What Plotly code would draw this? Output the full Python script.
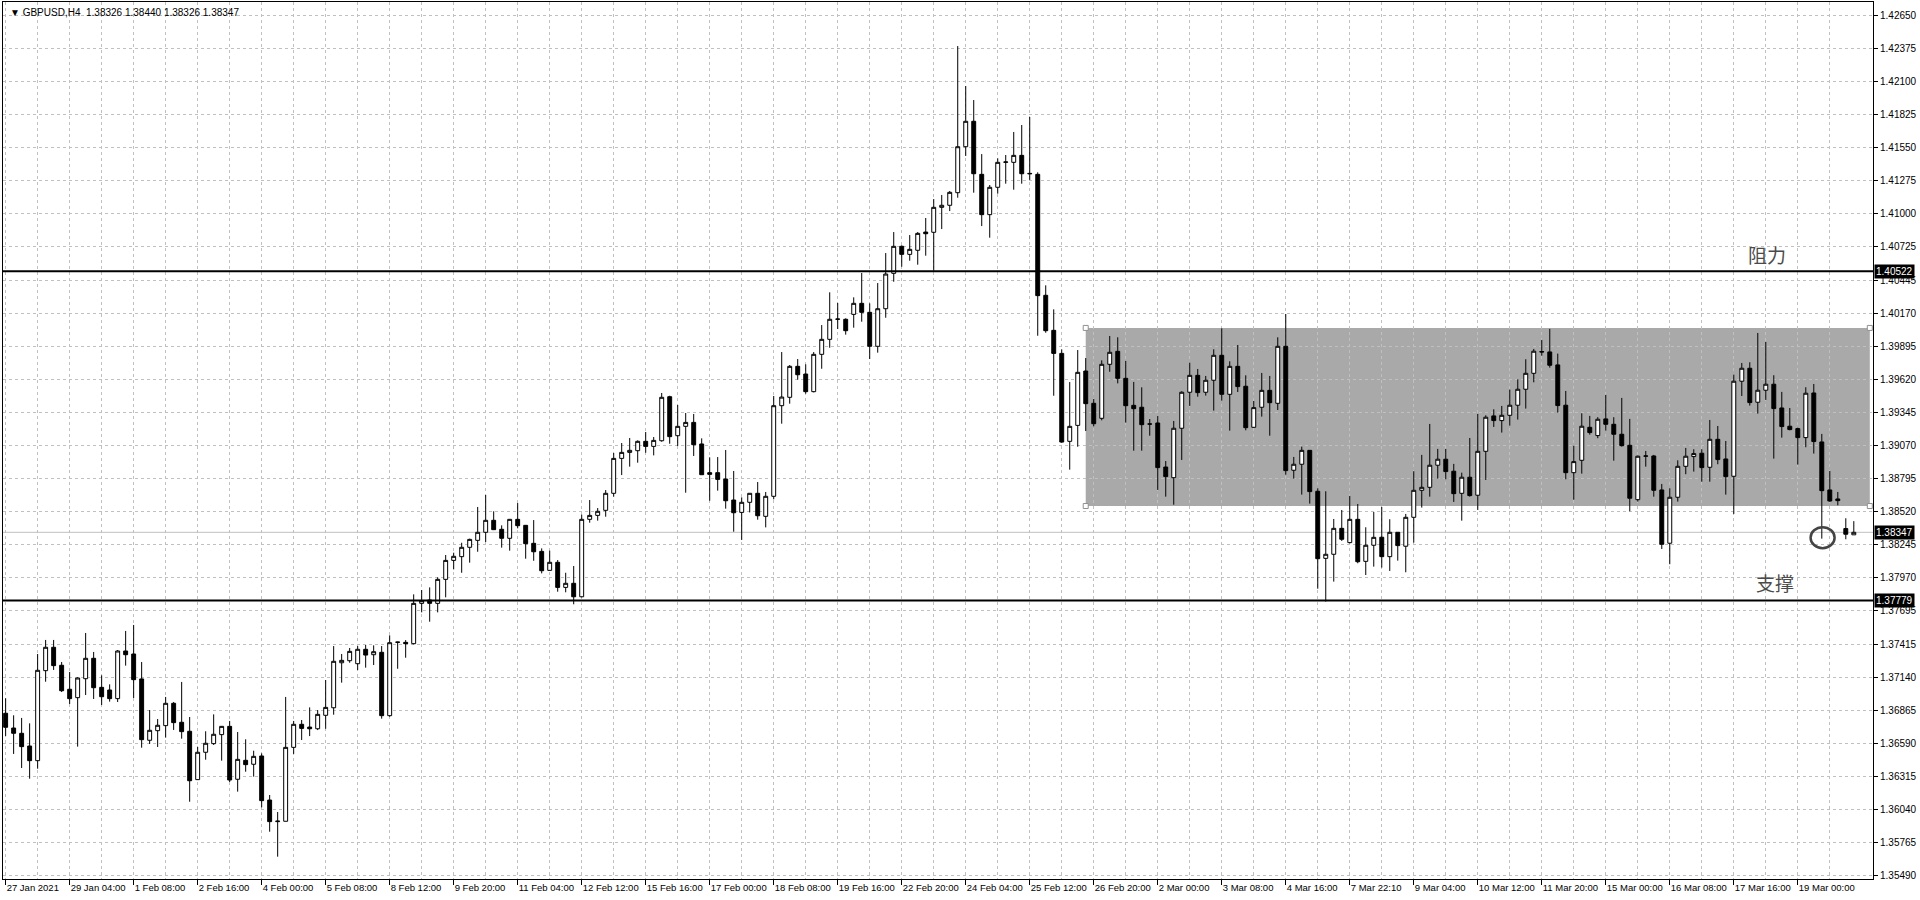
import plotly.graph_objects as go

# GBPUSD H4, one entry per bar (27 Jan 2021 20:00 -> 19 Mar 2021)
opens = [
    1.36839, 1.36716, 1.36672, 1.36566, 1.36444, 1.37194, 1.37389, 1.37239, 1.37039, 1.36969,
    1.37127, 1.37297, 1.37055, 1.37033, 1.36961, 1.37358, 1.37333, 1.37125, 1.36614, 1.36694,
    1.36736, 1.36922, 1.36764, 1.36689, 1.36286, 1.36514, 1.36586, 1.36661, 1.36730, 1.36289,
    1.36447, 1.36414, 1.36483, 1.36116, 1.35936, 1.35939, 1.36555, 1.36747, 1.36724, 1.36710,
    1.36822, 1.36885, 1.37260, 1.37277, 1.37252, 1.37372, 1.37327, 1.37347, 1.36819, 1.37430,
    1.37430, 1.37419, 1.37755, 1.37783, 1.37755, 1.37955, 1.38113, 1.38144, 1.38222, 1.38280,
    1.38347, 1.38447, 1.38372, 1.38297, 1.38455, 1.38405, 1.38255, 1.38188, 1.38030, 1.38097,
    1.37888, 1.37922, 1.37810, 1.38455, 1.38488, 1.38530, 1.38672, 1.38963, 1.39013, 1.39027,
    1.39105, 1.39063, 1.39110, 1.39477, 1.39152, 1.39230, 1.39263, 1.39083, 1.38844, 1.38844,
    1.38791, 1.38616, 1.38513, 1.38597, 1.38672, 1.38480, 1.38647, 1.39402, 1.39472, 1.39730,
    1.39666, 1.39519, 1.39830, 1.39955, 1.40122, 1.40122, 1.40163, 1.40255, 1.40180, 1.39897,
    1.40210, 1.40505, 1.40730, 1.40663, 1.40697, 1.40849, 1.40847, 1.41055, 1.41072, 1.41177,
    1.41560, 1.41772, 1.41330, 1.40994, 1.41222, 1.41430, 1.41430, 1.41488, 1.41338, 1.41330,
    1.40322, 1.40030, 1.39838, 1.39105, 1.39238, 1.39691, 1.39422, 1.39297, 1.39747, 1.39855,
    1.39630, 1.39405, 1.39389, 1.39250, 1.39258, 1.38891, 1.38802, 1.39214, 1.39514, 1.39655,
    1.39514, 1.39614, 1.39822, 1.39497, 1.39730, 1.39564, 1.39222, 1.39389, 1.39530, 1.39422,
    1.39897, 1.38864, 1.38914, 1.39030, 1.38689, 1.38130, 1.38164, 1.38380, 1.38261, 1.38455,
    1.38105, 1.38239, 1.38306, 1.38144, 1.38347, 1.38231, 1.38472, 1.38697, 1.38722, 1.38906,
    1.38956, 1.38856, 1.38672, 1.38806, 1.38656, 1.39022, 1.39317, 1.39278, 1.39322, 1.39406,
    1.39539, 1.39672, 1.39853, 1.39850, 1.39742, 1.39406, 1.38844, 1.38947, 1.39222, 1.39153,
    1.39292, 1.39247, 1.39164, 1.39072, 1.38619, 1.38981, 1.38983, 1.38700, 1.38256, 1.38639,
    1.38897, 1.38978, 1.39006, 1.38889, 1.39122, 1.38958, 1.38814, 1.39606, 1.39714, 1.39431,
    1.39531, 1.39581, 1.39383, 1.39231, 1.39211, 1.39136, 1.39508, 1.39100, 1.38700, 1.38625,
    1.38378, 1.38326,
]
highs = [
    1.36964, 1.36822, 1.36800, 1.36755, 1.37333, 1.37450, 1.37450, 1.37266, 1.37183, 1.37139,
    1.37508, 1.37350, 1.37155, 1.37080, 1.37366, 1.37525, 1.37575, 1.37266, 1.36866, 1.36791,
    1.36975, 1.36933, 1.37100, 1.36808, 1.36558, 1.36689, 1.36830, 1.36733, 1.36775, 1.36683,
    1.36622, 1.36527, 1.36505, 1.36158, 1.36016, 1.36975, 1.36775, 1.36783, 1.36888, 1.36866,
    1.37116, 1.37399, 1.37333, 1.37383, 1.37399, 1.37408, 1.37405, 1.37399, 1.37488, 1.37435,
    1.37449, 1.37830, 1.37866, 1.37888, 1.37972, 1.38158, 1.38177, 1.38260, 1.38294, 1.38558,
    1.38658, 1.38522, 1.38405, 1.38458, 1.38591, 1.38408, 1.38449, 1.38213, 1.38194, 1.38116,
    1.38010, 1.38066, 1.38494, 1.38616, 1.38549, 1.38699, 1.39008, 1.39091, 1.39133, 1.39113,
    1.39183, 1.39141, 1.39508, 1.39485, 1.39408, 1.39341, 1.39333, 1.39130, 1.38972, 1.38974,
    1.39033, 1.38858, 1.38638, 1.38672, 1.38766, 1.38683, 1.39483, 1.39849, 1.39741, 1.39791,
    1.39747, 1.39849, 1.40074, 1.40347, 1.40258, 1.40130, 1.40305, 1.40508, 1.40255, 1.40424,
    1.40674, 1.40849, 1.40738, 1.40824, 1.40849, 1.40966, 1.41124, 1.41158, 1.41191, 1.42399,
    1.42066, 1.41949, 1.41499, 1.41241, 1.41463, 1.41491, 1.41683, 1.41741, 1.41808, 1.41347,
    1.40405, 1.40205, 1.39872, 1.39599, 1.39866, 1.39799, 1.39458, 1.39780, 1.39983, 1.39972,
    1.39775, 1.39600, 1.39555, 1.39291, 1.39316, 1.38941, 1.39275, 1.39522, 1.39761, 1.39708,
    1.39650, 1.39872, 1.40047, 1.39772, 1.39908, 1.39655, 1.39441, 1.39675, 1.39650, 1.39972,
    1.40166, 1.38975, 1.39061, 1.39030, 1.38714, 1.38689, 1.38458, 1.38533, 1.38650, 1.38583,
    1.38389, 1.38516, 1.38558, 1.38456, 1.38347, 1.38500, 1.38856, 1.38992, 1.39250, 1.39042,
    1.39042, 1.38917, 1.38844, 1.39133, 1.39333, 1.39322, 1.39372, 1.39400, 1.39536, 1.39622,
    1.39789, 1.39875, 1.39950, 1.40042, 1.39836, 1.39525, 1.39067, 1.39339, 1.39317, 1.39306,
    1.39492, 1.39306, 1.39467, 1.39292, 1.38986, 1.39025, 1.38992, 1.38750, 1.38714, 1.38947,
    1.39050, 1.39039, 1.39039, 1.39283, 1.39233, 1.39108, 1.39661, 1.39758, 1.39764, 1.40008,
    1.39933, 1.39656, 1.39517, 1.39383, 1.39219, 1.39556, 1.39583, 1.39167, 1.38858, 1.38683,
    1.38464, 1.38440,
]
lows = [
    1.36650, 1.36500, 1.36383, 1.36294, 1.36377, 1.37102, 1.37200, 1.37016, 1.36916, 1.36561,
    1.36991, 1.36958, 1.36908, 1.36936, 1.36933, 1.37236, 1.36966, 1.36552, 1.36583, 1.36558,
    1.36636, 1.36700, 1.36627, 1.36102, 1.36283, 1.36452, 1.36575, 1.36444, 1.36266, 1.36186,
    1.36352, 1.36311, 1.36055, 1.35852, 1.35644, 1.35939, 1.36500, 1.36616, 1.36649, 1.36699,
    1.36710, 1.36827, 1.37094, 1.37260, 1.37199, 1.37219, 1.37241, 1.36794, 1.36810, 1.37210,
    1.37302, 1.37413, 1.37680, 1.37602, 1.37680, 1.37805, 1.38038, 1.38010, 1.38094, 1.38185,
    1.38266, 1.38366, 1.38219, 1.38194, 1.38380, 1.38127, 1.38110, 1.38005, 1.38027, 1.37852,
    1.37847, 1.37747, 1.37805, 1.38427, 1.38444, 1.38477, 1.38644, 1.38824, 1.38894, 1.38927,
    1.39010, 1.38988, 1.39102, 1.39085, 1.39066, 1.38677, 1.38983, 1.38824, 1.38610, 1.38694,
    1.38544, 1.38352, 1.38283, 1.38513, 1.38452, 1.38388, 1.38622, 1.39252, 1.39419, 1.39619,
    1.39502, 1.39513, 1.39710, 1.39885, 1.40041, 1.39994, 1.40052, 1.40102, 1.39791, 1.39844,
    1.40135, 1.40435, 1.40560, 1.40610, 1.40577, 1.40652, 1.40527, 1.40874, 1.41024, 1.41135,
    1.41483, 1.41177, 1.40899, 1.40802, 1.41169, 1.41252, 1.41202, 1.41252, 1.41283, 1.39985,
    1.40010, 1.39485, 1.39094, 1.38869, 1.39060, 1.39191, 1.39230, 1.39280, 1.39685, 1.39588,
    1.39261, 1.39027, 1.39027, 1.39152, 1.38700, 1.38644, 1.38577, 1.38950, 1.39400, 1.39477,
    1.39486, 1.39361, 1.39444, 1.39194, 1.39516, 1.39197, 1.39219, 1.39311, 1.39152, 1.39366,
    1.38827, 1.38794, 1.38661, 1.38586, 1.37877, 1.37770, 1.37936, 1.38275, 1.38255, 1.38089,
    1.37991, 1.38061, 1.38053, 1.38025, 1.38111, 1.38014, 1.38261, 1.38553, 1.38644, 1.38794,
    1.38789, 1.38600, 1.38444, 1.38644, 1.38533, 1.38783, 1.39225, 1.39178, 1.39236, 1.39286,
    1.39378, 1.39597, 1.39819, 1.39719, 1.39344, 1.38789, 1.38619, 1.38836, 1.39161, 1.39131,
    1.39194, 1.38944, 1.39061, 1.38522, 1.38603, 1.38894, 1.38644, 1.38208, 1.38081, 1.38603,
    1.38831, 1.38853, 1.38769, 1.38769, 1.38914, 1.38661, 1.38500, 1.39483, 1.39403, 1.39336,
    1.39450, 1.38961, 1.39136, 1.39197, 1.38911, 1.39056, 1.39003, 1.38294, 1.38600, 1.38572,
    1.38289, 1.38326,
]
closes = [
    1.36722, 1.36672, 1.36561, 1.36444, 1.37197, 1.37389, 1.37236, 1.37027, 1.36961, 1.37133,
    1.37297, 1.37052, 1.36977, 1.36961, 1.37358, 1.37327, 1.37119, 1.36619, 1.36697, 1.36739,
    1.36922, 1.36761, 1.36686, 1.36277, 1.36514, 1.36589, 1.36664, 1.36730, 1.36283, 1.36455,
    1.36411, 1.36480, 1.36111, 1.35936, 1.35940, 1.36555, 1.36747, 1.36713, 1.36710, 1.36830,
    1.36888, 1.37272, 1.37280, 1.37355, 1.37372, 1.37324, 1.37352, 1.36819, 1.37427, 1.37432,
    1.37419, 1.37755, 1.37777, 1.37755, 1.37955, 1.38113, 1.38147, 1.38222, 1.38288, 1.38347,
    1.38447, 1.38369, 1.38297, 1.38455, 1.38402, 1.38252, 1.38185, 1.38027, 1.38097, 1.37888,
    1.37922, 1.37810, 1.38455, 1.38488, 1.38522, 1.38672, 1.38963, 1.39013, 1.39030, 1.39105,
    1.39063, 1.39113, 1.39472, 1.39144, 1.39230, 1.39263, 1.39077, 1.38827, 1.38830, 1.38788,
    1.38610, 1.38510, 1.38597, 1.38672, 1.38485, 1.38647, 1.39402, 1.39474, 1.39730, 1.39660,
    1.39519, 1.39830, 1.39955, 1.40122, 1.40124, 1.40027, 1.40255, 1.40180, 1.39897, 1.40210,
    1.40499, 1.40730, 1.40663, 1.40705, 1.40838, 1.40835, 1.41055, 1.41072, 1.41180, 1.41560,
    1.41772, 1.41335, 1.40994, 1.41222, 1.41430, 1.41433, 1.41488, 1.41335, 1.41335, 1.40319,
    1.40027, 1.39838, 1.39099, 1.39230, 1.39680, 1.39419, 1.39252, 1.39747, 1.39847, 1.39630,
    1.39402, 1.39377, 1.39244, 1.39249, 1.38886, 1.38811, 1.39214, 1.39514, 1.39655, 1.39511,
    1.39614, 1.39822, 1.39497, 1.39730, 1.39561, 1.39219, 1.39386, 1.39530, 1.39427, 1.39897,
    1.38861, 1.38914, 1.39030, 1.38686, 1.38127, 1.38164, 1.38380, 1.38289, 1.38455, 1.38102,
    1.38239, 1.38305, 1.38144, 1.38347, 1.38236, 1.38472, 1.38697, 1.38722, 1.38906, 1.38956,
    1.38853, 1.38669, 1.38806, 1.38653, 1.39022, 1.39306, 1.39278, 1.39322, 1.39406, 1.39539,
    1.39672, 1.39856, 1.39850, 1.39739, 1.39403, 1.38844, 1.38936, 1.39231, 1.39178, 1.39289,
    1.39247, 1.39164, 1.39069, 1.38631, 1.38981, 1.38983, 1.38697, 1.38247, 1.38639, 1.38897,
    1.38981, 1.39003, 1.38886, 1.39122, 1.38953, 1.38811, 1.39606, 1.39714, 1.39428, 1.39531,
    1.39581, 1.39378, 1.39228, 1.39203, 1.39136, 1.39506, 1.39103, 1.38694, 1.38608, 1.38611,
    1.38331, 1.38347,
]

# one label every 8 bars
x_labels = [
    "27 Jan 2021", "29 Jan 04:00", "1 Feb 08:00", "2 Feb 16:00", "4 Feb 00:00",
    "5 Feb 08:00", "8 Feb 12:00", "9 Feb 20:00", "11 Feb 04:00", "12 Feb 12:00",
    "15 Feb 16:00", "17 Feb 00:00", "18 Feb 08:00", "19 Feb 16:00", "22 Feb 20:00",
    "24 Feb 04:00", "25 Feb 12:00", "26 Feb 20:00", "2 Mar 00:00", "3 Mar 08:00",
    "4 Mar 16:00", "7 Mar 22:10", "9 Mar 04:00", "10 Mar 12:00", "11 Mar 20:00",
    "15 Mar 00:00", "16 Mar 08:00", "17 Mar 16:00", "19 Mar 00:00",
]
y_labels = [
    "1.42650", "1.42375", "1.42100", "1.41825", "1.41550", "1.41275", "1.41000",
    "1.40725", "1.40445", "1.40170", "1.39895", "1.39620", "1.39345", "1.39070",
    "1.38795", "1.38520", "1.38245", "1.37970", "1.37695", "1.37415", "1.37140",
    "1.36865", "1.36590", "1.36315", "1.36040", "1.35765", "1.35490",
]

symbol_info = "GBPUSD,H4  1.38326 1.38440 1.38326 1.38347"
resistance = 1.40522
support = 1.37779
last_price = 1.38347
# range box: first bar, last bar, bottom, top
box_bars = [135, 233]
box_prices = [1.38566, 1.40050]
# circled wick: bars and prices spanned by the ellipse
circle_bars = [225.6, 228.6]
circle_prices = [1.38215, 1.38390]

bars = list(range(len(opens)))
grid = "#c0c0c0"
font = "Liberation Sans, Arial, sans-serif"

fig = go.Figure()
fig.add_trace(go.Candlestick(
    x=bars, open=opens, high=highs, low=lows, close=closes,
    increasing=dict(line=dict(color="black", width=1), fillcolor="white"),
    decreasing=dict(line=dict(color="black", width=1), fillcolor="black"),
    whiskerwidth=0, hoverinfo="skip", showlegend=False,
))
# selection handles on the box corners
fig.add_trace(go.Scatter(
    x=[box_bars[0], box_bars[0], box_bars[1], box_bars[1]],
    y=[box_prices[0], box_prices[1], box_prices[0], box_prices[1]],
    mode="markers", hoverinfo="skip", showlegend=False,
    marker=dict(symbol="square", size=5, color="white", line=dict(color="#909090", width=1)),
))

fig.add_shape(type="rect", x0=box_bars[0], x1=box_bars[1], y0=box_prices[0], y1=box_prices[1],
              fillcolor="#a9a9a9", line_width=0, layer="below")
fig.add_shape(type="line", xref="paper", x0=0, x1=1, y0=last_price, y1=last_price,
              line=dict(color="#c0c0c0", width=1), layer="below")
for lvl in (resistance, support):
    fig.add_shape(type="line", xref="paper", x0=0, x1=1, y0=lvl, y1=lvl,
                  line=dict(color="black", width=2))
fig.add_shape(type="circle", x0=circle_bars[0], x1=circle_bars[1],
              y0=circle_prices[0], y1=circle_prices[1], line=dict(color="#444444", width=2.5))

fig.add_annotation(text="▼ " + symbol_info, xref="paper", yref="paper", x=0, y=1,
                   xanchor="left", yanchor="top", xshift=5, yshift=-3, showarrow=False,
                   font=dict(family=font, size=10, color="black"))
fig.add_annotation(text="阻力", x=220.2, y=1.40658, showarrow=False,
                   font=dict(family="Noto Sans CJK SC", size=19, color="#4a4a4a"))
fig.add_annotation(text="支撑", x=221.1, y=1.37925, showarrow=False,
                   font=dict(family="Noto Sans CJK SC", size=19, color="#4a4a4a"))
for lvl in (resistance, last_price, support):
    fig.add_annotation(text=f"{lvl:.5f}", xref="paper", x=1, y=lvl, xanchor="left", xshift=1,
                       showarrow=False, bgcolor="black", borderpad=1,
                       font=dict(family=font, size=10, color="white"))

fig.update_layout(
    width=1920, height=900,
    margin=dict(l=3, r=47, t=2, b=21),
    paper_bgcolor="white", plot_bgcolor="white",
    font=dict(family=font, size=10, color="black"),
    showlegend=False,
    xaxis=dict(
        range=[-0.33, 233.4], rangeslider=dict(visible=False),
        tickmode="array", tickvals=bars[::8], ticktext=x_labels, tickangle=0,
        ticks="outside", ticklen=5, tickcolor="black", ticklabelposition="outside right",
        tickfont=dict(size=9.5),
        showgrid=True, gridcolor=grid, griddash="3px,3px", gridwidth=1,
        minor=dict(tickmode="array", tickvals=bars[4::8], showgrid=True,
                   gridcolor=grid, griddash="3px,3px", ticks=""),
        showline=True, linecolor="black", linewidth=1, mirror=True,
        zeroline=False, automargin=False, fixedrange=True,
    ),
    yaxis=dict(
        side="right", range=[1.35458, 1.42766],
        tickmode="array", tickvals=[float(v) for v in y_labels], ticktext=y_labels,
        ticks="outside", ticklen=4, tickcolor="black",
        showgrid=True, gridcolor=grid, griddash="3px,3px", gridwidth=1,
        showline=True, linecolor="black", linewidth=1, mirror=True,
        zeroline=False, automargin=False, fixedrange=True,
    ),
)

# the page body has a default margin; drop it so the 1920x900 figure fills the window
fig.write_html("out.html", config={"displayModeBar": False},
               post_script="document.body.style.margin='0';")
